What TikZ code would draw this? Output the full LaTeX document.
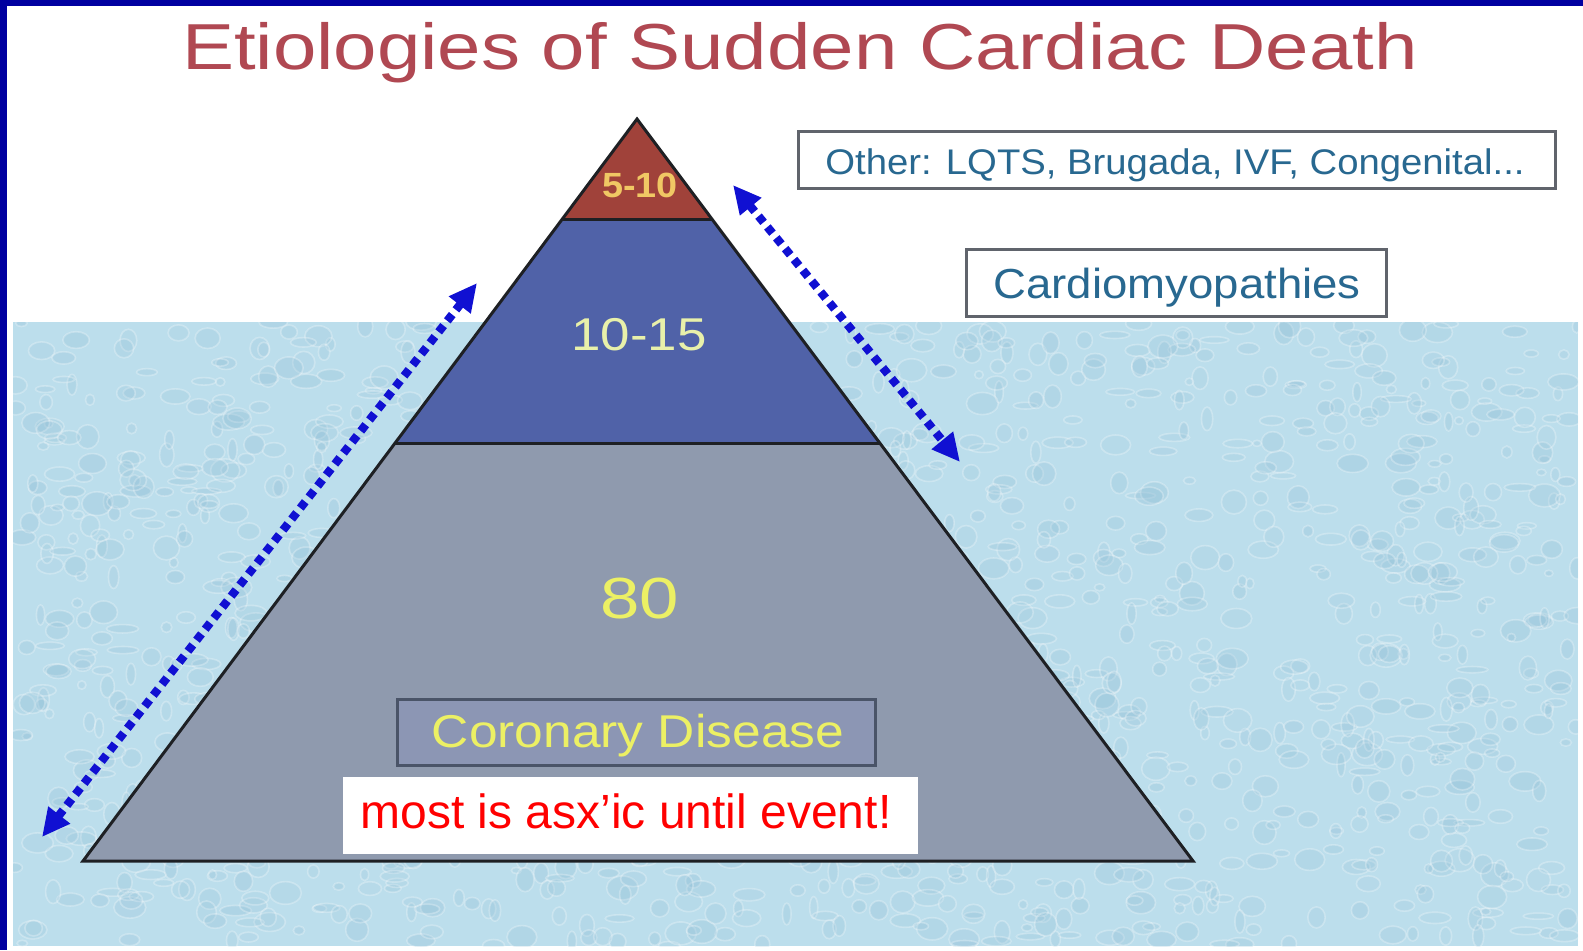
\documentclass[tikz,border=0pt]{standalone}
\usepackage{fontspec}
\usepackage{graphicx}
\setmainfont{Liberation Sans}
\usetikzlibrary{arrows.meta,calc}
\definecolor{frameblue}{RGB}{0,0,160}
\definecolor{titlered}{RGB}{176,72,82}
\definecolor{water}{RGB}{188,222,236}
\definecolor{waterdark}{RGB}{140,188,212}
\definecolor{tiertop}{RGB}{160,66,58}
\definecolor{tiermid}{RGB}{80,98,168}
\definecolor{tierbot}{RGB}{143,154,174}
\definecolor{boxtext}{RGB}{40,104,144}
\definecolor{boxline}{RGB}{96,100,108}
\definecolor{corfill}{RGB}{140,150,180}
\definecolor{corline}{RGB}{74,84,104}
\definecolor{yel}{RGB}{236,240,100}
\definecolor{paleyel}{RGB}{232,240,170}
\definecolor{orangeyel}{RGB}{240,200,100}
\definecolor{arrowblue}{RGB}{16,16,210}
\definecolor{edge}{RGB}{30,32,36}
\tikzset{
  labelbox/.style={draw=boxline, line width=1.5pt, fill=white},
  tierlabel/.style={inner sep=0pt, anchor=base},
  dotarrow/.style={draw=arrowblue, line width=4.2pt, dash pattern=on 4pt off 3pt,
     {Triangle[length=14pt,width=13pt]}-{Triangle[length=14pt,width=13pt]}},
  pyredge/.style={draw=edge, line width=1.5pt, line join=miter}
}
\begin{document}
\begin{tikzpicture}[x=0.5pt,y=-0.5pt]
\useasboundingbox (0,0) rectangle (1583,950);
\fill[white] (0,0) rectangle (1583,950);
% water
\fill[water] (13,322) rectangle (1578,946);
\begin{scope}
\clip (13,322) rectangle (1578,946);
\pgfmathsetseed{11}
\foreach \i in {1,...,1600}{
  \pgfmathsetmacro{\rx}{13+1565*rnd}
  \pgfmathsetmacro{\ry}{322+624*rnd}
  \pgfmathsetmacro{\ra}{4+12*rnd}
  \pgfmathsetmacro{\rb}{3+9*rnd}
  \pgfmathsetmacro{\op}{0.10+0.18*rnd}
  \fill[waterdark, opacity=\op] (\rx,\ry) ellipse[x radius=\ra, y radius=\rb];
  \draw[white, opacity=0.28, line width=0.8pt] (\rx,\ry) ellipse[x radius=\ra, y radius=\rb];
}
\end{scope}
% frame
\fill[frameblue] (0,0) rectangle (7,950);
\fill[frameblue] (0,0) rectangle (1583,6);
% title
\node[tierlabel, text=titlered] (title) at (800,69)
  {\fontsize{32.5pt}{36pt}\selectfont\scalebox{1.2}[1]{Etiologies of Sudden Cardiac Death}};
% pyramid
\coordinate (apex) at (637,119);
\coordinate (bl) at (83,861);
\coordinate (br) at (1193,861);
\coordinate (t1l) at ($(apex)!0.1348!(bl)$);
\coordinate (t1r) at ($(apex)!0.1348!(br)$);
\coordinate (t2l) at ($(apex)!0.4367!(bl)$);
\coordinate (t2r) at ($(apex)!0.4367!(br)$);
\fill[tiertop] (apex) -- (t1r) -- (t1l) -- cycle;
\fill[tiermid] (t1l) -- (t1r) -- (t2r) -- (t2l) -- cycle;
\fill[tierbot] (t2l) -- (t2r) -- (br) -- (bl) -- cycle;
\draw[pyredge] (apex) -- (br) -- (bl) -- cycle;
\draw[pyredge] (t1l) -- (t1r);
\draw[pyredge] (t2l) -- (t2r);
% tier labels
\node[tierlabel, text=orangeyel] (l510) at (640,197)
  {\fontsize{17.5pt}{19pt}\selectfont\bfseries\scalebox{1.08}[1]{5-10}};
\node[tierlabel, text=paleyel] (l1015) at (639,350)
  {\fontsize{23pt}{24pt}\selectfont\scalebox{1.15}[1]{10-15}};
\node[tierlabel, text=yel] (l80) at (640,618)
  {\fontsize{29pt}{30pt}\selectfont\scalebox{1.22}[1]{80}};
% coronary box
\node[draw=corline, line width=1.5pt, fill=corfill, minimum width=239pt, minimum height=33pt, inner sep=0pt] (cor) at (636,732) {};
\node[tierlabel, text=yel] (cortext) at (638,747)
  {\fontsize{23pt}{24pt}\selectfont\scalebox{1.12}[1]{Coronary Disease}};
% red overlay
\node[fill=white, minimum width=287.5pt, minimum height=38.5pt, inner sep=0pt] (note) at (630.5,815.5) {};
\node[tierlabel, text=red] (notetext) at (626,828)
  {\fontsize{24pt}{26pt}\selectfont most is asx’ic until event!};
% side boxes
\node[labelbox, minimum width=378.5pt, minimum height=28.5pt, inner sep=0pt] (other) at (1176.5,159.5) {};
\node[tierlabel, text=boxtext] (othertext) at (1175,174)
  {\fontsize{17.8pt}{19pt}\selectfont\scalebox{1.075}[1]{Other: LQTS, Brugada, IVF, Congenital...}};
\node[labelbox, minimum width=210pt, minimum height=33.5pt, inner sep=0pt] (cardio) at (1176,282.5) {};
\node[tierlabel, text=boxtext] (cardiotext) at (1177,298)
  {\fontsize{21pt}{23pt}\selectfont\scalebox{1.085}[1]{Cardiomyopathies}};
% arrows
\coordinate (la1) at (42,837);
\coordinate (la2) at (477,283);
\coordinate (ra1) at (733,185);
\coordinate (ra2) at (960,462);
\draw[dotarrow] (la1) -- (la2);
\draw[dotarrow] (ra1) -- (ra2);
\end{tikzpicture}
\end{document}
